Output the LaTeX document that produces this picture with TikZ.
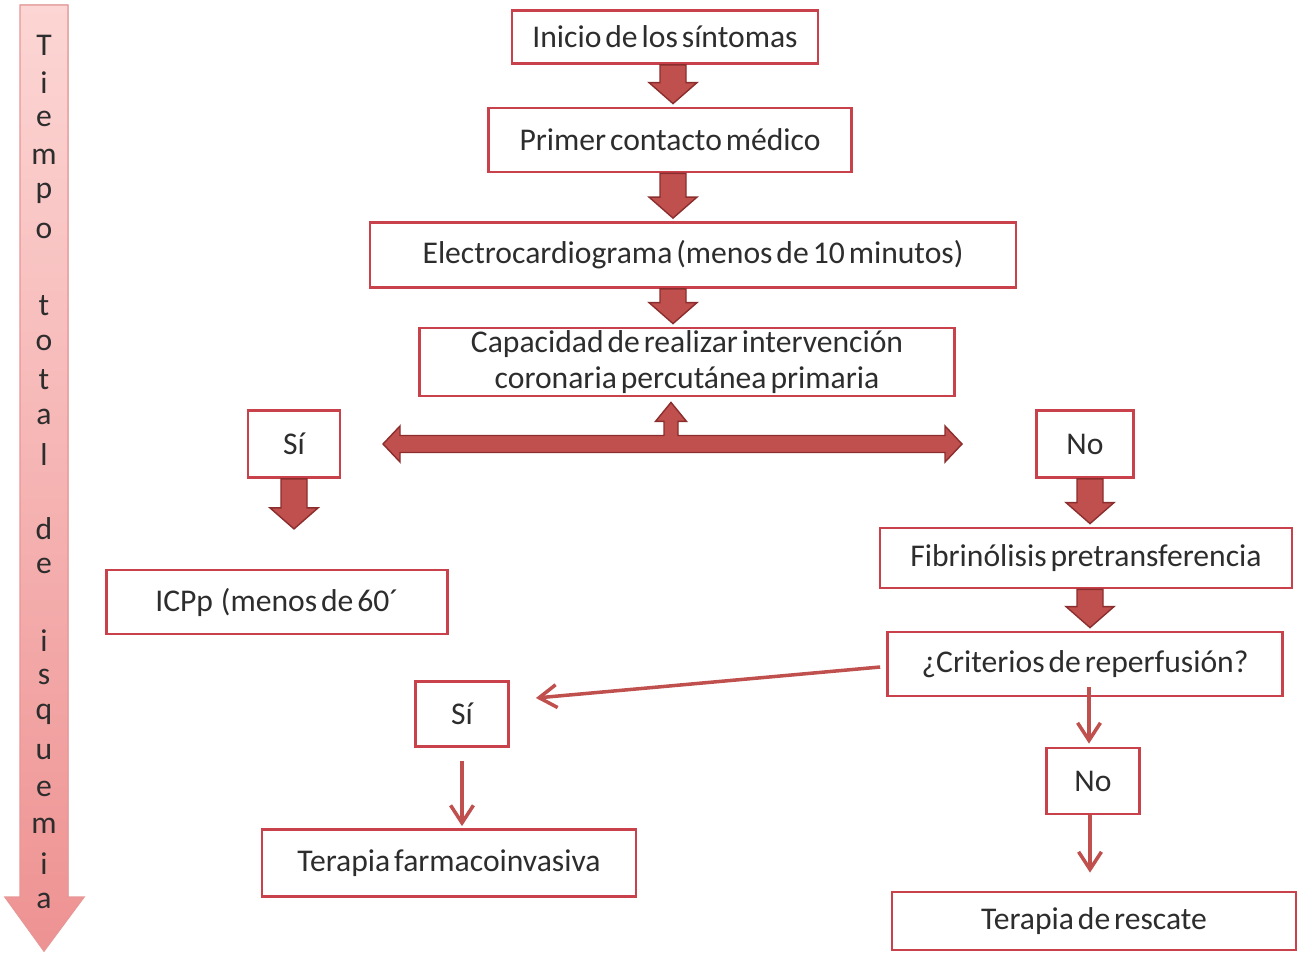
\documentclass[tikz,border=0pt]{standalone}
\usepackage{fontspec}
\setmainfont{Carlito}[WordSpace=0.55]
\usepackage{tikz}
\usetikzlibrary{calc}
\usetikzlibrary{arrows.meta}
\usepackage{xcolor}
\definecolor{boxred}{RGB}{200,65,75}
\definecolor{fillred}{RGB}{192,80,77}
\definecolor{darkred}{RGB}{140,45,45}
\definecolor{txtgray}{RGB}{45,45,45}
\definecolor{pinklight}{RGB}{252,214,212}
\definecolor{pinkdark}{RGB}{238,146,146}
\definecolor{pinkline}{RGB}{232,150,150}

\newcommand{\bigarrow}[3][0]{%
  \coordinate (ba) at ($(#2)+(#1,0)$);
  \coordinate (bb) at ($(#2 |- #3)+(#1,-3)$);
  \filldraw[block] ($(ba)+(-13,0)$) -- ($(bb)+(-13,-21)$) -- ($(bb)+(-24,-21)$) -- (bb)
    -- ($(bb)+(24,-21)$) -- ($(bb)+(13,-21)$) -- ($(ba)+(13,0)$) -- cycle;}

\begin{document}
\begin{tikzpicture}[x=0.02cm, y=-0.02cm]
    \tikzstyle{box}=[draw=boxred, line width=1.6pt, fill=white, inner sep=0pt, align=center, text=txtgray, font=\fontsize{18}{20}\selectfont]
    \tikzstyle{block}=[fill=fillred, draw=darkred, line width=0.8pt, line join=miter]
    \tikzstyle{link}=[draw=fillred, line width=2pt, -{Straight Barb[length=10pt,width=13pt]}]
    \tikzstyle{letter}=[text=txtgray, inner sep=0pt, font=\fontsize{18}{20}\selectfont]
    \fill[white] (0,0) rectangle (1297,953);
    \useasboundingbox (0,0) rectangle (1297,953);
    % time arrow on the left
    \filldraw[top color=pinklight, bottom color=pinkdark, draw=pinkline, line width=0.8pt]
      (20,5) -- (20,897) -- (5,897) -- (44,951) -- (84,897) -- (68,897) -- (68,5) -- cycle;
    \foreach \ch [count=\k from 0] in {T,i,e,m,p,o,{},t,o,t,a,l,{},d,e,{},i,s,q,u,e,m,i,a}
      \node[letter] (tl\k) at (44,{45+37.2*\k}) {\ch};
    % boxes
    \node[box, minimum width=6.12cm, minimum height=1.06cm] (inicio) at (665,37) {Inicio de los síntomas};
    \node[box, minimum width=7.26cm, minimum height=1.28cm] (primer) at (670,140) {Primer contacto médico};
    \node[box, minimum width=12.92cm, minimum height=1.3cm] (ecg) at (693,255) {Electrocardiograma (menos de 10 minutos)};
    \node[box, minimum width=10.7cm, minimum height=1.36cm] (cap) at (687,362) {Capacidad de realizar intervención\\coronaria percutánea primaria};
    \node[box, minimum width=1.84cm, minimum height=1.34cm] (si1) at (294,444) {Sí};
    \node[box, minimum width=1.94cm, minimum height=1.34cm] (no1) at (1085,444) {No};
    \node[box, minimum width=6.82cm, minimum height=1.28cm] (icpp) at (277,602) {ICPp\ \ (menos de 60´};
    \node[box, minimum width=8.24cm, minimum height=1.2cm] (fib) at (1086,558) {Fibrinólisis pretransferencia};
    \node[box, minimum width=7.9cm, minimum height=1.28cm] (crit) at (1085,664) {¿Criterios de reperfusión?};
    \node[box, minimum width=1.86cm, minimum height=1.3cm] (si2) at (462,714) {Sí};
    \node[box, minimum width=1.86cm, minimum height=1.32cm] (no2) at (1093,781) {No};
    \node[box, minimum width=7.48cm, minimum height=1.34cm] (farm) at (449,863) {Terapia farmacoinvasiva};
    \node[box, minimum width=8.08cm, minimum height=1.16cm] (resc) at (1094,921) {Terapia de rescate};
    % thick arrows
    \bigarrow[8]{inicio.south}{primer.north}
    \bigarrow[3]{primer.south}{ecg.north}
    \bigarrow[-20]{ecg.south}{cap.north}
    \coordinate (sidown) at ($(si1.south)+(0,53)$);
    \bigarrow{si1.south}{sidown}
    \bigarrow[5]{no1.south}{fib.north}
    \bigarrow[4]{fib.south}{crit.north}
    % two-way arrow below the question
    \coordinate (hl) at (383,444);
    \coordinate (hr) at (962,444);
    \coordinate (hu) at ($(cap.south)+(-16,5)$);
    \filldraw[block] (hl) -- ++(17,-18) -- ++(0,9.5) -| ($(hu)+(-7,19)$) -- ++(-8.5,0) -- (hu)
      -- ++(15.5,19) -- ++(-8.5,0) |- ($(hr)+(-17,-8.5)$) -- ++(0,-9.5) -- (hr)
      -- ++(-17,18) -- ++(0,-9.5) -- ($(hl)+(17,8.5)$) -- ++(0,9.5) -- cycle;
    % thin arrows
    \draw[link] ($(crit.west)+(-6,3)$) -- ($(si2.east)+(26,-16)$);
    \draw[link] ($(si2.south)+(0,13)$) -- ($(si2.south |- farm.north)+(0,-2)$);
    \draw[link] ($(crit.south)+(4,-10)$) -- ($(no2.north)+(-4,-3)$);
    \draw[link] ($(no2.south)+(-3,0)$) -- ($(no2.south |- resc.north)+(-3,-18)$);
\end{tikzpicture}
\end{document}
